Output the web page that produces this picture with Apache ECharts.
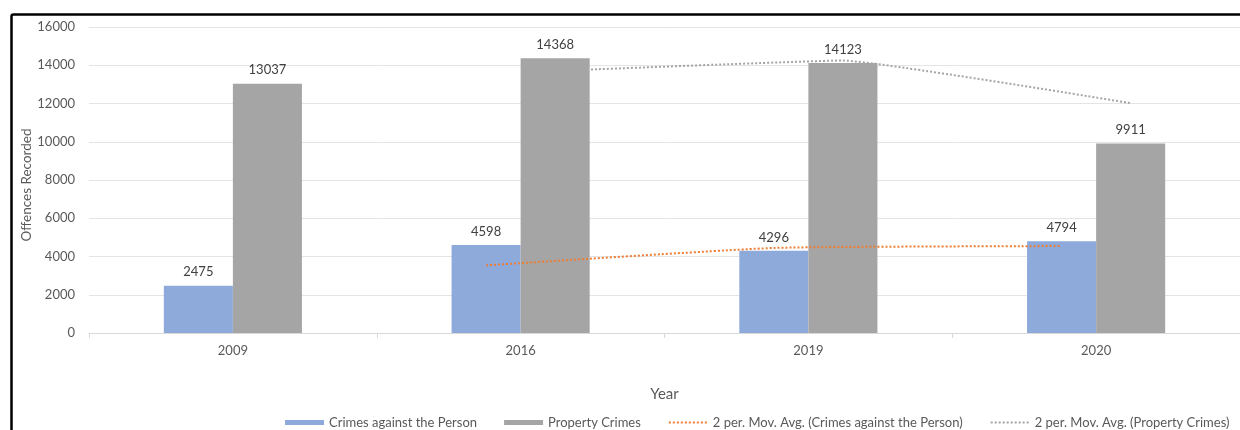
<!DOCTYPE html>
<html>
<head>
<meta charset="utf-8">
<script src="https://cdn.jsdelivr.net/npm/echarts@6/dist/echarts.min.js"></script>
<style>
html,body{margin:0;padding:0;background:#fff;}
#chart{width:1240px;height:430px;}
</style>
</head>
<body>
<div id="chart"></div>
<script>
const categories = ['2009', '2016', '2019', '2020'];
const personCrimes = [2475, 4598, 4296, 4794];
const propertyCrimes = [13037, 14368, 14123, 9911];
const maPerson = [null, 3537, 4447, 4545];
const maProperty = [null, 13703, 14246, 12017];
const seriesNames = ['Crimes against the Person', 'Property Crimes',
  '2 per. Mov. Avg. (Crimes against the Person)', '2 per. Mov. Avg. (Property Crimes)'];

const FONT = 'Lato';
const GAP = 0.52;
const barFrac = (1 - GAP) / 2;
const off = barFrac / 2;

function toPts(arr, shift) {
  const out = [];
  arr.forEach((v, i) => { if (v !== null) out.push([i + shift, v]); });
  return out;
}

const chart = echarts.init(document.getElementById('chart'), null, {renderer: 'canvas'});
chart.setOption({
  animation: false,
  backgroundColor: '#fff',
  textStyle: {fontFamily: FONT},
  graphic: [{
    type: 'rect', left: 9, top: 12, z: 100, silent: true,
    shape: {width: 1260, height: 440, r: 2},
    style: {fill: 'none', stroke: '#000', lineWidth: 2.5}
  }],
  grid: {left: 89, right: -5, top: 27, bottom: 97},
  legend: {
    left: 280, top: 411,
    itemWidth: 39, itemHeight: 5, itemGap: 27,
    textStyle: {fontFamily: FONT, fontSize: 13, color: '#595959'},
    data: [
      {name: seriesNames[0], icon: 'rect'},
      {name: seriesNames[1], icon: 'rect'},
      {name: seriesNames[2], itemStyle: {opacity: 0}},
      {name: seriesNames[3], itemStyle: {opacity: 0}}
    ]
  },
  xAxis: [{
    type: 'category', data: categories,
    name: 'Year', nameLocation: 'middle', nameGap: 54, nameMoveOverlap: false,
    nameTextStyle: {fontFamily: FONT, fontSize: 15, color: '#595959'},
    axisLine: {lineStyle: {color: '#d9d9d9'}},
    axisTick: {show: true, length: 5, lineStyle: {color: '#d9d9d9'}},
    axisLabel: {fontFamily: FONT, fontSize: 13, color: '#595959', margin: 11}
  }, {
    type: 'value', min: -0.5, max: 3.5, show: false
  }],
  yAxis: {
    type: 'value', min: 0, max: 16000, interval: 2000,
    name: 'Offences Recorded', nameLocation: 'middle', nameGap: 55, nameMoveOverlap: false,
    nameTextStyle: {fontFamily: FONT, fontSize: 13.5, color: '#595959', padding: [0, 10, 0, 0]},
    axisLine: {show: false}, axisTick: {show: false},
    axisLabel: {fontFamily: FONT, fontSize: 13, color: '#595959', margin: 14,
      formatter: v => String(v)},
    splitLine: {lineStyle: {color: '#e4e4e4'}}
  },
  series: [{
    name: seriesNames[0], type: 'bar', data: personCrimes,
    barGap: '0%', barCategoryGap: (GAP * 100) + '%',
    itemStyle: {color: '#8eaadb'},
    label: {show: true, position: 'top', distance: 7, fontFamily: FONT, fontSize: 13, color: '#404040'}
  }, {
    name: seriesNames[1], type: 'bar', data: propertyCrimes,
    itemStyle: {color: '#a5a5a5'},
    label: {show: true, position: 'top', distance: 7, fontFamily: FONT, fontSize: 13, color: '#404040'}
  }, {
    name: seriesNames[2], type: 'line', xAxisIndex: 1,
    data: toPts(maPerson, -off), symbol: 'none', smooth: 0.15,
    itemStyle: {color: '#ed7d31'},
    lineStyle: {color: '#ed7d31', width: 2, type: [2, 2]}
  }, {
    name: seriesNames[3], type: 'line', xAxisIndex: 1,
    data: toPts(maProperty, off), symbol: 'none', smooth: 0.1,
    itemStyle: {color: '#a5a5a5'},
    lineStyle: {color: '#a5a5a5', width: 2, type: [2, 2]}
  }]
});
</script>
</body>
</html>
